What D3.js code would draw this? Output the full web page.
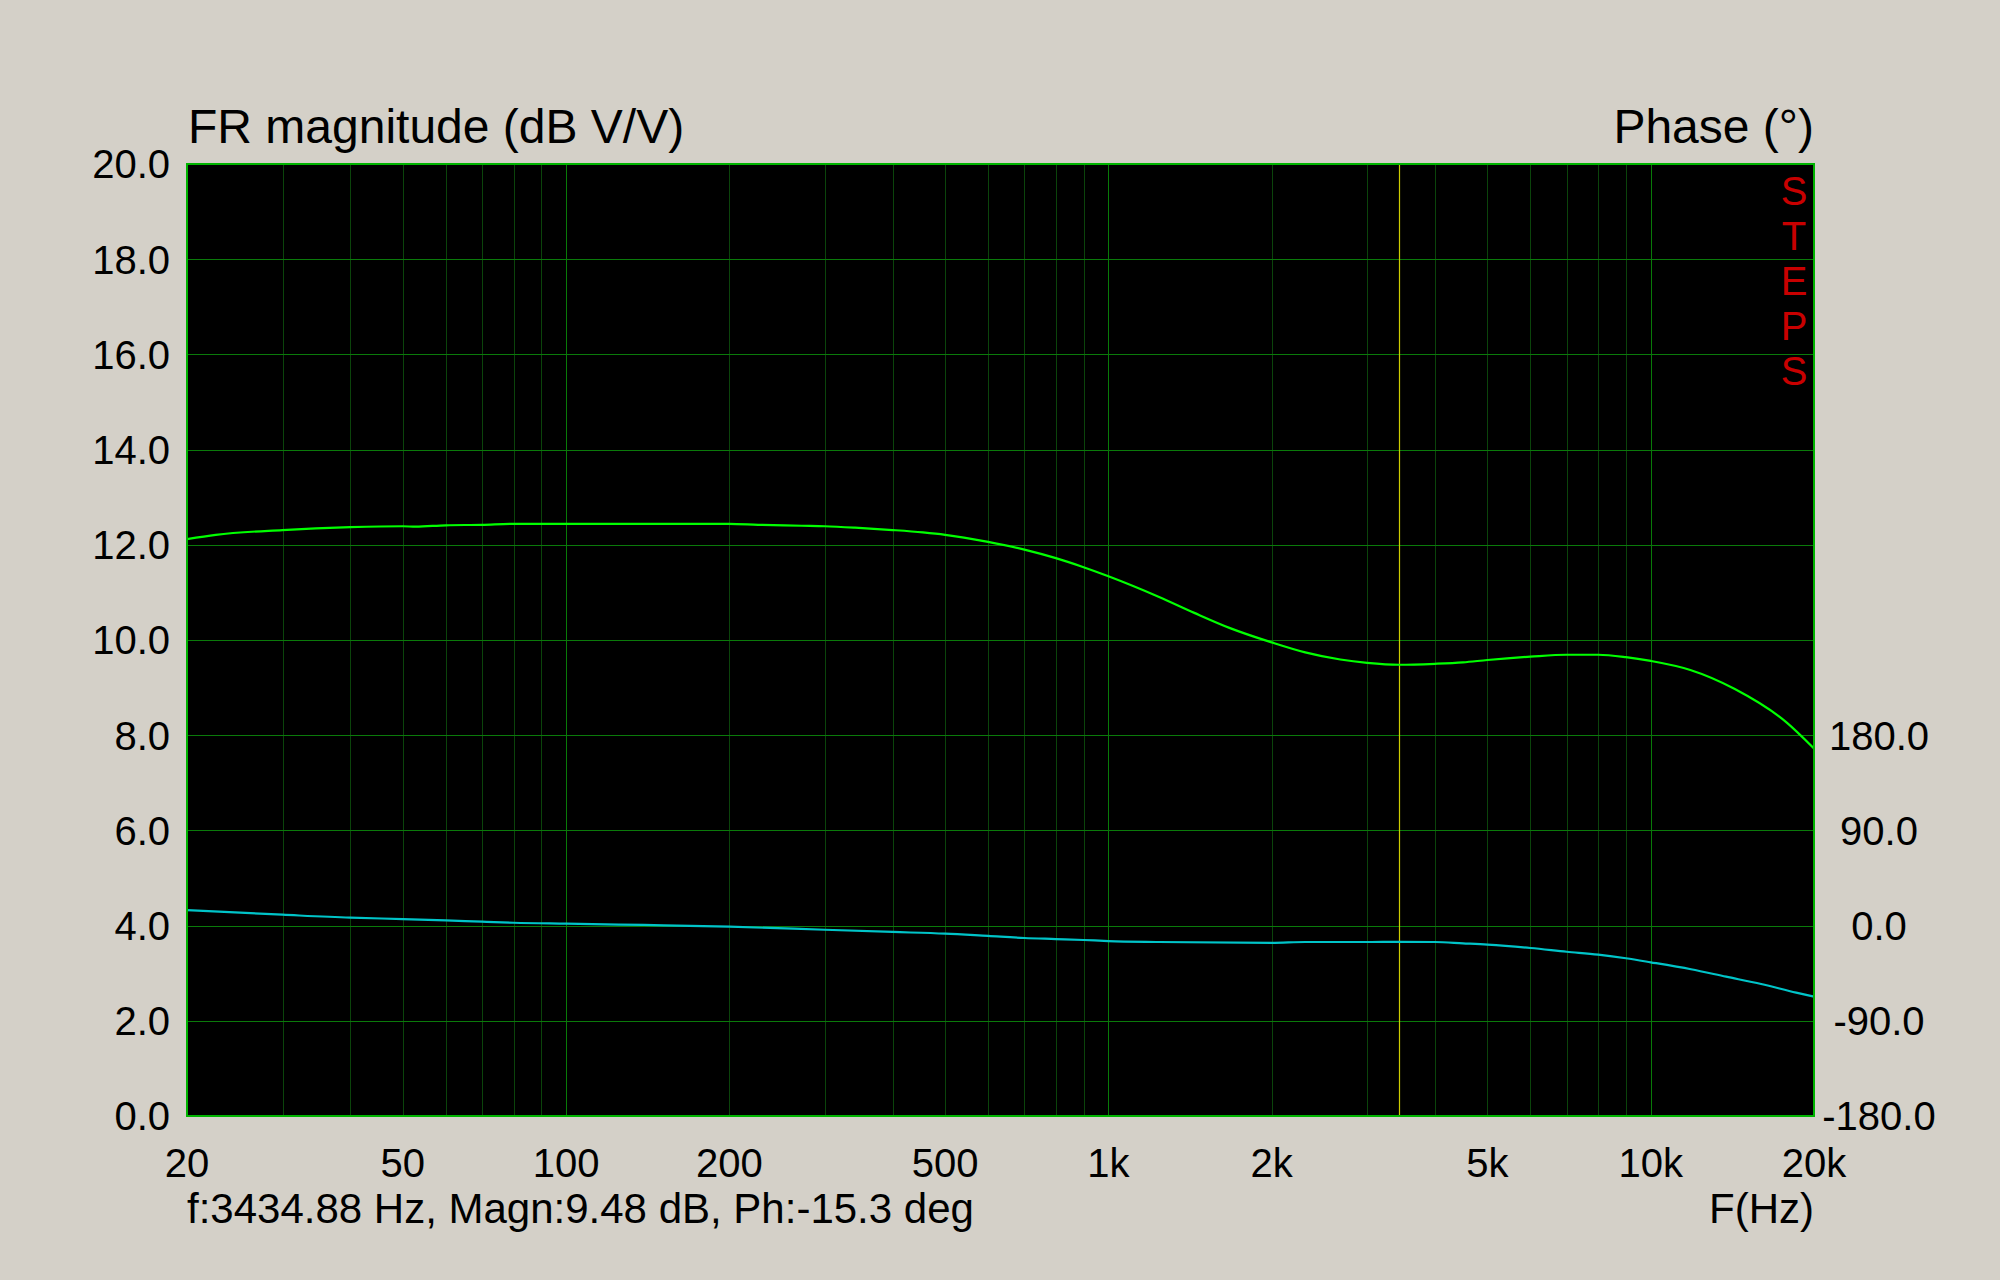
<!DOCTYPE html>
<html>
<head>
<meta charset="utf-8">
<script src="https://cdn.jsdelivr.net/npm/d3@7"></script>
<style>
  html, body { margin: 0; padding: 0; background: #d4d0c8; }
  svg { display: block; font-family: "Liberation Sans", Arial, sans-serif; }
</style>
</head>
<body>
<svg id="chart" width="2000" height="1280"></svg>
<script>
// ---- data ----
const magFreq = [20, 22.6, 30, 40, 50, 52.8, 60, 70, 80, 100, 200, 226, 272, 300, 341, 400, 455, 500, 600, 700, 800, 900, 1000, 1237, 1440, 1676, 2000, 2306, 2677, 3000, 3435, 4000, 4506, 5000, 6000, 7000, 8000, 9000, 10000, 11830, 14290, 17750, 20000];
const magDb   = [12.12, 12.21, 12.31, 12.37, 12.39, 12.38, 12.41, 12.42, 12.44, 12.44, 12.44, 12.42, 12.40, 12.39, 12.36, 12.31, 12.26, 12.21, 12.06, 11.90, 11.72, 11.53, 11.34, 10.91, 10.57, 10.25, 9.95, 9.74, 9.59, 9.52, 9.48, 9.50, 9.53, 9.58, 9.65, 9.69, 9.69, 9.64, 9.56, 9.37, 8.97, 8.28, 7.72];
const phFreq  = [20, 30, 40, 50, 60, 70, 80, 100, 139, 200, 300, 400, 500, 600, 700, 800, 900, 1000, 1237, 2000, 2306, 3000, 3435, 4000, 4506, 5000, 6000, 7000, 8000, 9000, 10000, 11860, 13770, 15980, 18540, 20000];
const phDeg   = [14.7, 10.3, 7.5, 6.2, 5.0, 3.7, 2.7, 1.8, 0.6, -1.0, -3.9, -6.0, -7.6, -9.8, -11.7, -12.7, -13.6, -14.6, -15.5, -16.4, -15.5, -15.5, -15.3, -15.5, -16.8, -18.0, -21.2, -24.7, -27.5, -30.9, -34.7, -41.3, -48.3, -55.2, -63.4, -67.2];
const xTickVals   = [20, 50, 100, 200, 500, 1000, 2000, 5000, 10000, 20000];
const xTickLabels = ["20", "50", "100", "200", "500", "1k", "2k", "5k", "10k", "20k"];
const magTicks = [0, 2, 4, 6, 8, 10, 12, 14, 16, 18, 20];
const phTicks  = [-180, -90, 0, 90, 180];
const cursorFreq = 3434.88;
const titleLeft  = "FR magnitude (dB V/V)";
const titleRight = "Phase (°)";
const statusText = "f:3434.88 Hz, Magn:9.48 dB, Ph:-15.3 deg";
const xAxisName  = "F(Hz)";
const sideLetters = ["S", "T", "E", "P", "S"];

// ---- layout ----
const L = 187, R = 1814, T = 164, B = 1116;
const svg = d3.select("#chart");

const x = d3.scaleLog().domain([20, 20000]).range([L, R]);
const y = d3.scaleLinear().domain([0, 20]).range([B, T]);
const yP = d3.scaleLinear().domain([-180, 180]).range([B, y(8)]);

// plot background
svg.append("rect").attr("x", L).attr("y", T).attr("width", R - L).attr("height", B - T).attr("fill", "#000");

// vertical grid
const vGrid = [];
for (let dec = 10; dec <= 10000; dec *= 10) {
  for (let m = 1; m <= 9; m++) {
    const f = m * dec;
    if (f > 20 && f < 20000) vGrid.push(f);
  }
}
svg.append("g").selectAll("line").data(vGrid).join("line")
  .attr("x1", d => Math.round(x(d)) + 0.5).attr("x2", d => Math.round(x(d)) + 0.5)
  .attr("y1", T).attr("y2", B)
  .attr("stroke", d => ([100, 1000, 10000].includes(d) ? "#087a08" : "#0b440b"))
  .attr("stroke-width", 1);

// horizontal grid
svg.append("g").selectAll("line").data(magTicks.filter(d => d > 0 && d < 20)).join("line")
  .attr("x1", L).attr("x2", R)
  .attr("y1", d => Math.round(y(d)) + 0.5).attr("y2", d => Math.round(y(d)) + 0.5)
  .attr("stroke", "#0a7a0a").attr("stroke-width", 1);

// cursor
svg.append("line")
  .attr("x1", Math.round(x(cursorFreq)) + 0.5).attr("x2", Math.round(x(cursorFreq)) + 0.5)
  .attr("y1", T).attr("y2", B)
  .attr("stroke", "#cccc00").attr("stroke-width", 1.2);

// curves
const magLine = d3.line().x((d, i) => x(magFreq[i])).y(d => y(d)).curve(d3.curveMonotoneX);
svg.append("path").attr("d", magLine(magDb)).attr("fill", "none")
  .attr("stroke", "#00ff00").attr("stroke-width", 2.2);

const phLine = d3.line().x((d, i) => x(phFreq[i])).y(d => yP(d)).curve(d3.curveMonotoneX);
svg.append("path").attr("d", phLine(phDeg)).attr("fill", "none")
  .attr("stroke", "#00c4c8").attr("stroke-width", 2.2);

// border
svg.append("rect").attr("x", L).attr("y", T).attr("width", R - L).attr("height", B - T)
  .attr("fill", "none").attr("stroke", "#00b400").attr("stroke-width", 2);

// left tick labels
svg.append("g").selectAll("text").data(magTicks).join("text")
  .attr("x", 170).attr("y", d => y(d)).attr("dy", "0.36em")
  .attr("text-anchor", "end").attr("font-size", 40).attr("fill", "#000")
  .text(d => d.toFixed(1));

// right tick labels
svg.append("g").selectAll("text").data(phTicks).join("text")
  .attr("x", 1879).attr("y", d => yP(d)).attr("dy", "0.36em")
  .attr("text-anchor", "middle").attr("font-size", 40).attr("fill", "#000")
  .text(d => d.toFixed(1));

// x tick labels
svg.append("g").selectAll("text").data(xTickVals).join("text")
  .attr("x", d => x(d)).attr("y", 1177)
  .attr("text-anchor", "middle").attr("font-size", 40).attr("fill", "#000")
  .text((d, i) => xTickLabels[i]);

// titles
svg.append("text").attr("x", 188).attr("y", 143).attr("font-size", 48).attr("fill", "#000").text(titleLeft);
svg.append("text").attr("x", 1814).attr("y", 143).attr("text-anchor", "end").attr("font-size", 48).attr("fill", "#000").text(titleRight);

// status line
svg.append("text").attr("x", 187).attr("y", 1223).attr("font-size", 42).attr("fill", "#000").text(statusText);
svg.append("text").attr("x", 1814).attr("y", 1223).attr("text-anchor", "end").attr("font-size", 42).attr("fill", "#000").text(xAxisName);

// side letters
svg.append("g").selectAll("text").data(sideLetters).join("text")
  .attr("x", 1794).attr("y", (d, i) => 191 + i * 45).attr("dy", "0.36em")
  .attr("text-anchor", "middle").attr("font-size", 40).attr("fill", "#c80000")
  .text(d => d);
</script>
</body>
</html>
